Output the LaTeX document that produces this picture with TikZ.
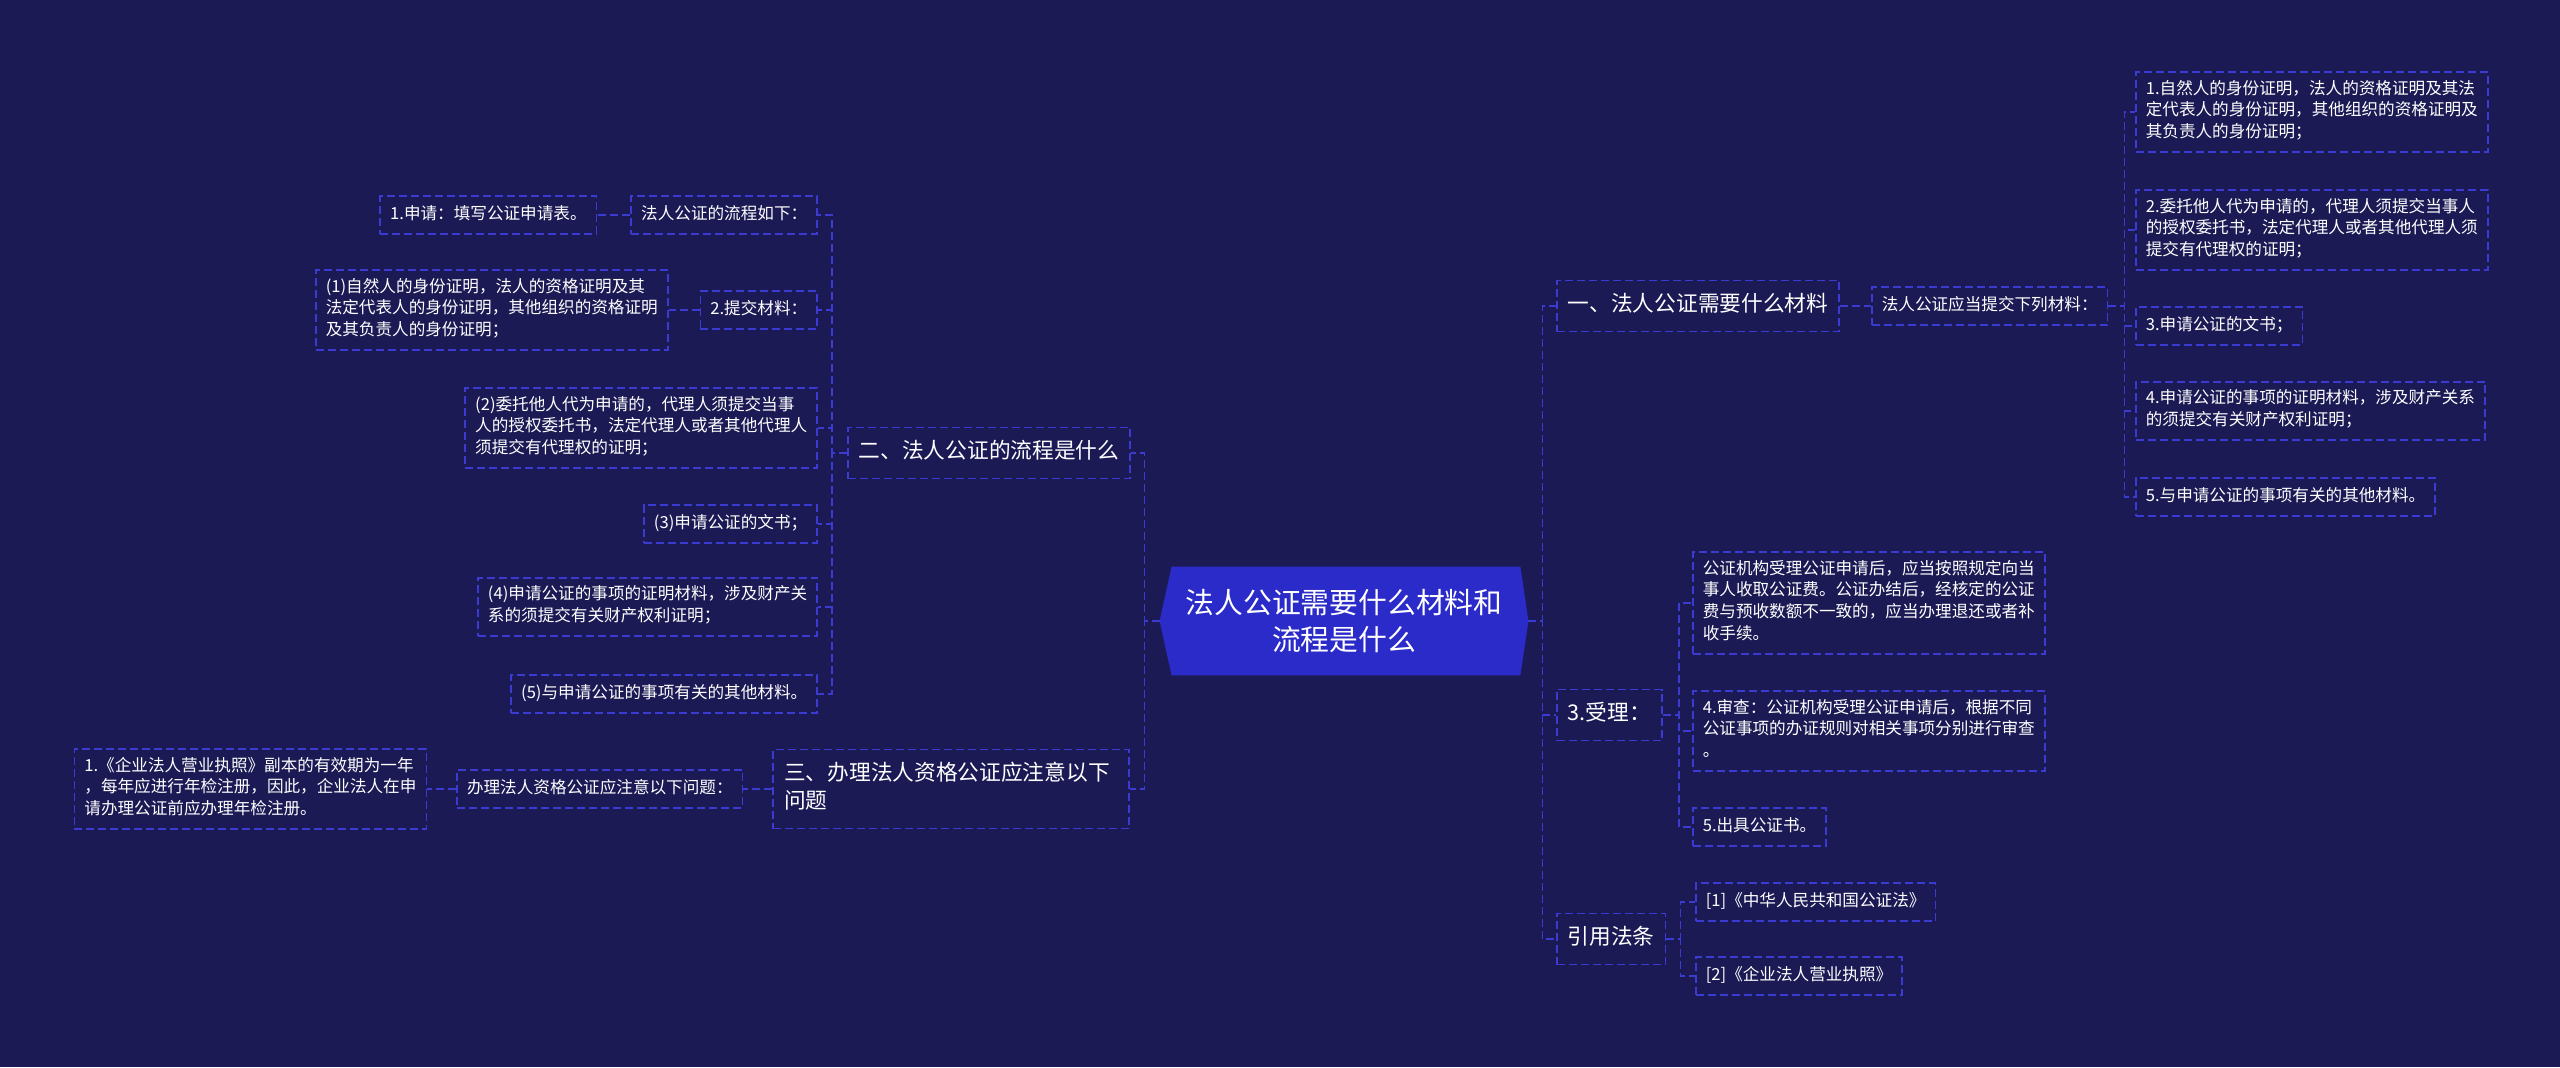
\documentclass[tikz,border=0pt]{standalone}
\usepackage{fontspec}
\setmainfont{Noto Sans CJK SC}
\usepackage{xcolor}
\usepackage{tikz}
\usetikzlibrary{positioning,calc,backgrounds}
\definecolor{night}{HTML}{1B1A55}
\definecolor{dashblue}{HTML}{3B3BD2}
\definecolor{hubblue}{HTML}{2B2BC9}
\newcommand{\leaffont}{\fontsize{8.3pt}{10.85pt}\selectfont}
\newcommand{\topicfont}{\fontsize{10.85pt}{14pt}\selectfont}
\newcommand{\hubfont}{\fontsize{14.4pt}{18.35pt}\selectfont}

\begin{document}
\begin{tikzpicture}[x=0.5pt, y=-0.5pt,
  leaf/.style={rectangle, draw=dashblue, line width=0.8pt, dash pattern=on 4pt off 2pt,
               align=left, font=\leaffont, text=white, inner xsep=5pt, inner ysep=4pt,
               execute at begin node=\strut, execute at end node=\strut},
  topic/.style={leaf, font=\topicfont, inner xsep=5.5pt, inner ysep=5.75pt},
  hub/.style={rectangle, minimum width=184pt, minimum height=54pt, align=center,
              font=\hubfont, text=white, inner sep=0pt},
  link/.style={draw=dashblue, line width=0.8pt, dash pattern=on 4pt off 2pt}
]
  \node[hub] (hub) at (1344,621) {法人公证需要什么材料和\\流程是什么};

  % left branch
  \node[topic,anchor=east] (flowq) at (1131,453) {二、法人公证的流程是什么};
  \node[leaf,anchor=east] (steps) at (818,215) {法人公证的流程如下：};
  \node[leaf,left=16.5pt of steps] (apply) {1.申请：填写公证申请表。};
  \node[leaf,anchor=east] (submit) at (818,310) {2.提交材料：};
  \node[leaf,left=15.5pt of submit] (idproof) {(1)自然人的身份证明，法人的资格证明及其\\法定代表人的身份证明，其他组织的资格证明\\及其负责人的身份证明；};
  \node[leaf,anchor=east] (proxy) at (818,428) {(2)委托他人代为申请的，代理人须提交当事\\人的授权委托书，法定代理人或者其他代理人\\须提交有代理权的证明；};
  \node[leaf,anchor=east] (docs) at (818,524) {(3)申请公证的文书；};
  \node[leaf,anchor=east] (matter) at (818,607) {(4)申请公证的事项的证明材料，涉及财产关\\系的须提交有关财产权利证明；};
  \node[leaf,anchor=east] (others) at (818,694) {(5)与申请公证的事项有关的其他材料。};
  \node[topic,anchor=east,text width=167pt] (notes) at (1130,789) {三、办理法人资格公证应注意以下\\问题};
  \node[leaf,left=14.5pt of notes] (issues) {办理法人资格公证应注意以下问题：};
  \node[leaf,left=14.5pt of issues] (annual) {1.《企业法人营业执照》副本的有效期为一年\\，每年应进行年检注册，因此，企业法人在申\\请办理公证前应办理年检注册。};

  % right branch
  \node[topic,anchor=west] (needs) at (1556,306) {一、法人公证需要什么材料};
  \node[leaf,right=15.5pt of needs] (list) {法人公证应当提交下列材料：};
  \node[leaf,anchor=west] (m1) at (2135,112) {1.自然人的身份证明，法人的资格证明及其法\\定代表人的身份证明，其他组织的资格证明及\\其负责人的身份证明；};
  \node[leaf,anchor=west] (m2) at (2135,230) {2.委托他人代为申请的，代理人须提交当事人\\的授权委托书，法定代理人或者其他代理人须\\提交有代理权的证明；};
  \node[leaf,anchor=west] (m3) at (2135,326) {3.申请公证的文书；};
  \node[leaf,anchor=west] (m4) at (2135,411) {4.申请公证的事项的证明材料，涉及财产关系\\的须提交有关财产权利证明；};
  \node[leaf,anchor=west] (m5) at (2135,497) {5.与申请公证的事项有关的其他材料。};
  \node[topic,anchor=west] (accept) at (1556,715) {3.受理：};
  \node[leaf,anchor=west] (fee) at (1692,603) {公证机构受理公证申请后，应当按照规定向当\\事人收取公证费。公证办结后，经核定的公证\\费与预收数额不一致的，应当办理退还或者补\\收手续。};
  \node[leaf,anchor=west] (review) at (1692,731) {4.审查：公证机构受理公证申请后，根据不同\\公证事项的办证规则对相关事项分别进行审查\\。};
  \node[leaf,anchor=west] (issue) at (1692,827) {5.出具公证书。};
  \node[topic,anchor=west] (laws) at (1556,939) {引用法条};
  \node[leaf,anchor=west] (law1) at (1695,902) {[1]《中华人民共和国公证法》};
  \node[leaf,anchor=west] (law2) at (1695,976) {[2]《企业法人营业执照》};

  \begin{scope}[on background layer]
    \fill[night] (0,0) rectangle (2560,1067);
    \fill[hubblue] (hub.west) -- ([xshift=6pt]hub.north west) -- ([xshift=-4pt]hub.north east)
      -- (hub.east) -- ([xshift=-4pt]hub.south east) -- ([xshift=6pt]hub.south west) -- cycle;
  \end{scope}

  \draw[link] (hub.west) -- ++(-15,0) |- (flowq.east);
  \draw[link] (hub.west) -- ++(-15,0) |- (notes.east);
  \draw[link] (flowq.west) -- ++(-15,0) |- (steps.east);
  \draw[link] (flowq.west) -- ++(-15,0) |- (submit.east);
  \draw[link] (flowq.west) -- ++(-15,0) |- (proxy.east);
  \draw[link] (flowq.west) -- ++(-15,0) |- (docs.east);
  \draw[link] (flowq.west) -- ++(-15,0) |- (matter.east);
  \draw[link] (flowq.west) -- ++(-15,0) |- (others.east);
  \draw[link] (steps) -- (apply);
  \draw[link] (submit) -- (idproof);
  \draw[link] (notes) -- (issues);
  \draw[link] (issues) -- (annual);

  \draw[link] (hub.east) -- ++(14,0) |- (needs.west);
  \draw[link] (hub.east) -- ++(14,0) |- (accept.west);
  \draw[link] (hub.east) -- ++(14,0) |- (laws.west);
  \draw[link] (needs) -- (list);
  \draw[link] (list.east) -- ++(16,0) |- (m1.west);
  \draw[link] (list.east) -- ++(16,0) |- (m2.west);
  \draw[link] (list.east) -- ++(16,0) |- (m3.west);
  \draw[link] (list.east) -- ++(16,0) |- (m4.west);
  \draw[link] (list.east) -- ++(16,0) |- (m5.west);
  \draw[link] (accept.east) -- ++(16,0) |- (fee.west);
  \draw[link] (accept.east) -- ++(16,0) |- (review.west);
  \draw[link] (accept.east) -- ++(16,0) |- (issue.west);
  \draw[link] (laws.east) -- ++(14,0) |- (law1.west);
  \draw[link] (laws.east) -- ++(14,0) |- (law2.west);
\end{tikzpicture}
\end{document}
